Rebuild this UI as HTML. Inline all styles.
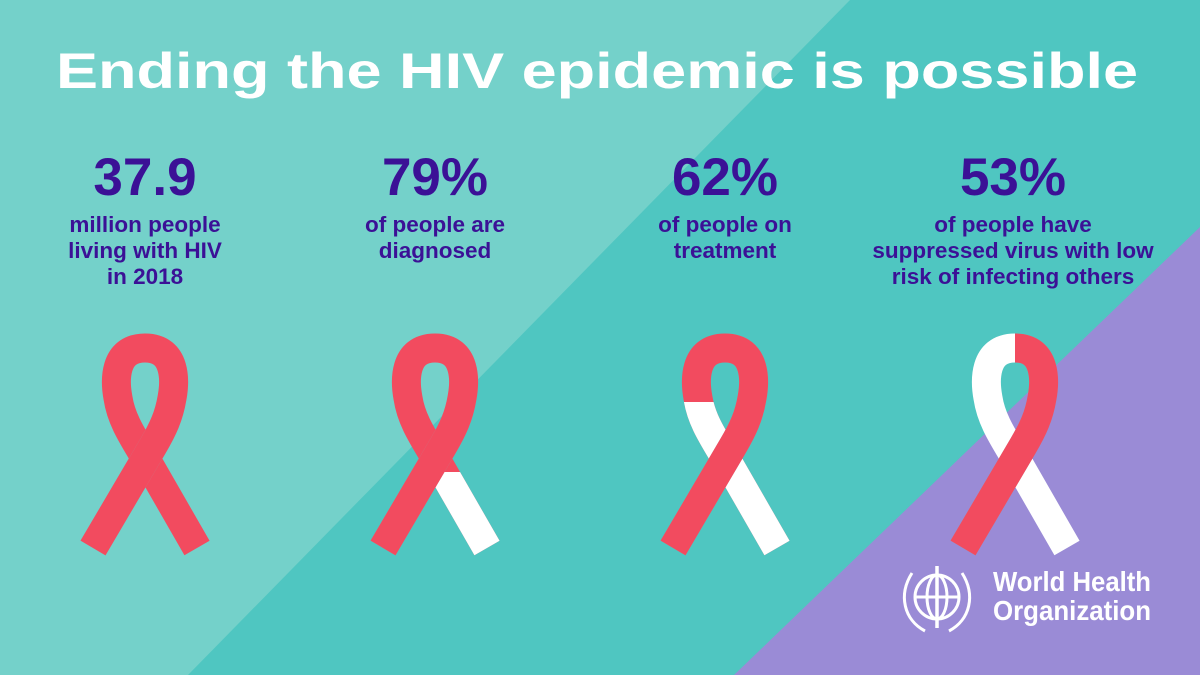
<!DOCTYPE html>
<html><head><meta charset="utf-8"><style>
html,body{margin:0;padding:0;width:1200px;height:675px;overflow:hidden;background:#4fc6c1}
svg{display:block}
text{font-family:"Liberation Sans",sans-serif;font-weight:bold}
</style></head><body>
<svg width="1200" height="675" viewBox="0 0 1200 675" xmlns="http://www.w3.org/2000/svg">
<defs>
<g id="back"><path d="M0,14 C-32,14 -30,48 -27,64 C-24,84 -14,100 -2,120 L52,214" fill="none" stroke-width="29"/></g>
<g id="front"><path d="M0,14 C32,14 30,48 27,64 C24,82 18,95 8,112 L-52,214" fill="none" stroke-width="29"/></g>
<clipPath id="c2"><rect x="-100" y="138" width="200" height="200"/></clipPath>
<clipPath id="c3"><rect x="-100" y="68" width="200" height="200"/></clipPath>
</defs>
<rect width="1200" height="675" fill="#4fc6c1"/>
<polygon points="0,0 850,0 188,675 0,675" fill="#74d1ca"/>
<polygon points="1200,227 1200,675 734,675" fill="#9a8bd6"/>

<text x="56" y="88" font-size="50" fill="#fff" textLength="1082" lengthAdjust="spacingAndGlyphs">Ending the HIV epidemic is possible</text>

<g fill="#3b1196" text-anchor="middle">
<text x="145" y="195" font-size="53">37.9</text>
<text x="145" y="232" font-size="22.5">million people</text>
<text x="145" y="258" font-size="22.5">living with HIV</text>
<text x="145" y="284" font-size="22.5">in 2018</text>
<text x="435" y="195" font-size="53">79%</text>
<text x="435" y="232" font-size="22.5">of people are</text>
<text x="435" y="258" font-size="22.5">diagnosed</text>
<text x="725" y="195" font-size="53">62%</text>
<text x="725" y="232" font-size="22.5">of people on</text>
<text x="725" y="258" font-size="22.5">treatment</text>
<text x="1013" y="195" font-size="53">53%</text>
<text x="1013" y="232" font-size="22.5">of people have</text>
<text x="1013" y="258" font-size="22.5">suppressed virus with low</text>
<text x="1013" y="284" font-size="22.5">risk of infecting others</text>
</g>

<g transform="translate(145,334)">
<use href="#back" stroke="#f24b5f"/>
<use href="#front" stroke="#8fb5b5" stroke-width="32"/>
<use href="#front" stroke="#f24b5f"/>
</g>
<g transform="translate(435,334)">
<use href="#back" stroke="#f24b5f"/>
<g clip-path="url(#c2)"><use href="#back" stroke="#fff"/></g>
<use href="#front" stroke="#8fb5b5" stroke-width="32"/>
<use href="#front" stroke="#f24b5f"/>
</g>
<g transform="translate(725,334)">
<use href="#back" stroke="#f24b5f"/>
<g clip-path="url(#c3)"><use href="#back" stroke="#fff"/></g>
<use href="#front" stroke="#8fb5b5" stroke-width="32"/>
<use href="#front" stroke="#f24b5f"/>
</g>
<g transform="translate(1015,334)">
<use href="#back" stroke="#fff"/>
<use href="#front" stroke="#8fb5b5" stroke-width="32"/>
<use href="#front" stroke="#f24b5f"/>
</g>

<g fill="none" stroke="#fff" stroke-width="3">
<circle cx="937" cy="597" r="22"/>
<ellipse cx="937" cy="597" rx="10" ry="22"/>
<line x1="915" y1="597" x2="959" y2="597"/>
<path d="M912,573 C898,595 904,620 925,631"/>
<path d="M962,573 C976,595 970,620 949,631"/>
<line x1="937" y1="566" x2="937" y2="628" stroke-width="3.5"/>
</g>
<text x="993" y="591" font-size="28" fill="#fff" textLength="158" lengthAdjust="spacingAndGlyphs">World Health</text>
<text x="993" y="620" font-size="28" fill="#fff" textLength="158" lengthAdjust="spacingAndGlyphs">Organization</text>
</svg>
</body></html>
